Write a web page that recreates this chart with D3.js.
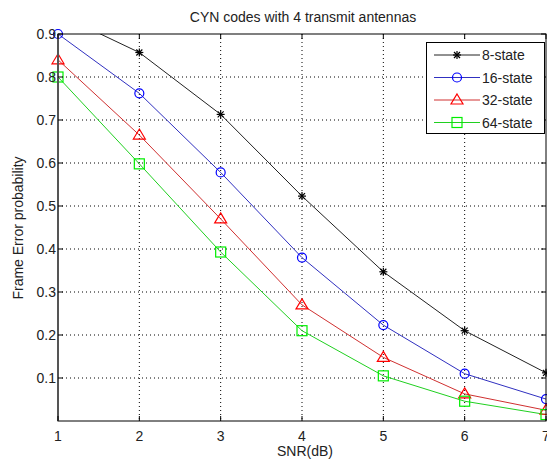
<!DOCTYPE html>
<html><head><meta charset="utf-8">
<script src="https://cdn.jsdelivr.net/npm/d3@7"></script>
<style>body{margin:0;background:#fff;overflow:hidden;}svg{display:block;font-family:"Liberation Sans",Arial,sans-serif;}</style>
</head><body><svg id="c" width="547" height="461"></svg>
<script>
const snr = [1, 2, 3, 4, 5, 6, 7];
const seriesNames = ["8-state", "16-state", "32-state", "64-state"];
const state8 = [0.947, 0.857, 0.713, 0.523, 0.347, 0.21, 0.112];
const state16 = [0.9, 0.762, 0.578, 0.38, 0.223, 0.11, 0.051];
const state32 = [0.84, 0.665, 0.47, 0.27, 0.148, 0.063, 0.025];
const state64 = [0.8, 0.598, 0.393, 0.21, 0.105, 0.046, 0.015];
const xTicks = [1, 2, 3, 4, 5, 6, 7];
const yTicks = [0.1, 0.2, 0.3, 0.4, 0.5, 0.6, 0.7, 0.8, 0.9];

const colors = ["#000000", "#0000ff", "#ff0000", "#00ee00"];
const lineColors = ["#222222", "#3030c0", "#d03030", "#20d020"];
const markers = ["star", "circle", "triangle", "square"];
const data = [state8, state16, state32, state64];

const svg = d3.select("#c");
const L = 58, R = 546, T = 34, B = 421;
const x = d3.scaleLinear().domain([1, 7]).range([L, R]);
const y = d3.scaleLinear().domain([0, 0.9]).range([B, T]);
const FS = 14;

// grid
const g = svg.append("g");
g.selectAll(".gx").data(xTicks.slice(1, -1)).enter().append("line")
  .attr("x1", d => x(d)).attr("x2", d => x(d)).attr("y1", T).attr("y2", B)
  .attr("stroke", "#000").attr("stroke-width", 1).attr("stroke-dasharray", "1,3");
g.selectAll(".gy").data(yTicks.slice(0, -1)).enter().append("line")
  .attr("x1", L).attr("x2", R).attr("y1", d => y(d)).attr("y2", d => y(d))
  .attr("stroke", "#000").attr("stroke-width", 1).attr("stroke-dasharray", "1,3");

svg.append("clipPath").attr("id", "clip").append("rect")
  .attr("x", L).attr("y", T).attr("width", R - L).attr("height", B - T);

const line = d3.line().x((d, i) => x(snr[i])).y(d => y(d));
const plot = svg.append("g").attr("clip-path", "url(#clip)");

function drawMarker(sel, type, color, cx, cy) {
  if (type === "star") {
    const p = sel.append("g").attr("stroke", color).attr("stroke-width", 1.2);
    p.append("line").attr("x1", cx - 4).attr("x2", cx + 4).attr("y1", cy).attr("y2", cy);
    p.append("line").attr("x1", cx).attr("x2", cx).attr("y1", cy - 4).attr("y2", cy + 4);
    p.append("line").attr("x1", cx - 3).attr("x2", cx + 3).attr("y1", cy - 3).attr("y2", cy + 3);
    p.append("line").attr("x1", cx - 3).attr("x2", cx + 3).attr("y1", cy + 3).attr("y2", cy - 3);
  } else if (type === "circle") {
    sel.append("circle").attr("cx", cx).attr("cy", cy).attr("r", 4.5)
      .attr("fill", "none").attr("stroke", color).attr("stroke-width", 1.2);
  } else if (type === "triangle") {
    sel.append("path").attr("d", `M${cx},${cy - 6}L${cx + 6},${cy + 4}L${cx - 6},${cy + 4}Z`)
      .attr("fill", "none").attr("stroke", color).attr("stroke-width", 1.2);
  } else {
    sel.append("rect").attr("x", cx - 5).attr("y", cy - 5).attr("width", 10).attr("height", 10)
      .attr("fill", "none").attr("stroke", color).attr("stroke-width", 1.2);
  }
}

data.forEach((vals, k) => {
  plot.append("path").datum(vals).attr("d", line)
    .attr("fill", "none").attr("stroke", lineColors[k]).attr("stroke-width", 1);
});
const mk = svg.append("g");
data.forEach((vals, k) => {
  vals.forEach((v, i) => {
    if (v <= 0.9) drawMarker(mk, markers[k], colors[k], x(snr[i]), y(v));
  });
});

// axes box
svg.append("rect").attr("x", L).attr("y", T).attr("width", R - L).attr("height", B - T)
  .attr("fill", "none").attr("stroke", "#000").attr("stroke-width", 1);
svg.append("line").attr("x1", L).attr("x2", L).attr("y1", T).attr("y2", B).attr("stroke", "#555").attr("stroke-width", 2);

// ticks
const tk = svg.append("g").attr("stroke", "#000");
xTicks.forEach(d => {
  tk.append("line").attr("x1", x(d)).attr("x2", x(d)).attr("y1", B).attr("y2", B - 5);
  tk.append("line").attr("x1", x(d)).attr("x2", x(d)).attr("y1", T).attr("y2", T + 5);
});
yTicks.forEach(d => {
  tk.append("line").attr("x1", L).attr("x2", L + 5).attr("y1", y(d)).attr("y2", y(d));
  tk.append("line").attr("x1", R).attr("x2", R - 5).attr("y1", y(d)).attr("y2", y(d));
});

// tick labels
svg.selectAll(".xl").data(xTicks).enter().append("text")
  .attr("x", d => x(d)).attr("y", B + 20).attr("text-anchor", "middle")
  .attr("font-size", FS).attr("fill", "#222").text(d => d);
svg.selectAll(".yl").data(yTicks).enter().append("text")
  .attr("x", L - 2).attr("y", d => y(d) + 5).attr("text-anchor", "end")
  .attr("font-size", FS).attr("fill", "#222").text(d => d.toFixed(1));

// titles
svg.append("text").attr("x", 303).attr("y", 22).attr("text-anchor", "middle")
  .attr("font-size", FS).attr("fill", "#222").text("CYN codes with 4 transmit antennas");
svg.append("text").attr("x", 305).attr("y", 456).attr("text-anchor", "middle")
  .attr("font-size", FS).attr("fill", "#222").text("SNR(dB)");
svg.append("text").attr("transform", `translate(23,228) rotate(-90)`)
  .attr("text-anchor", "middle").attr("font-size", FS).attr("fill", "#222").text("Frame Error probability");

// legend
const lg = svg.append("g");
lg.append("rect").attr("x", 426.5).attr("y", 42.5).attr("width", 118).attr("height", 91)
  .attr("fill", "#fff").attr("stroke", "#000").attr("stroke-width", 1);
seriesNames.forEach((n, k) => {
  const yy = 55 + k * 22.5;
  lg.append("line").attr("x1", 434).attr("x2", 480).attr("y1", yy).attr("y2", yy)
    .attr("stroke", lineColors[k]).attr("stroke-width", 1);
  drawMarker(lg, markers[k], colors[k], 457, yy);
  lg.append("text").attr("x", 482).attr("y", yy + 5).attr("font-size", FS).attr("fill", "#222").text(n);
});
</script></body></html>
